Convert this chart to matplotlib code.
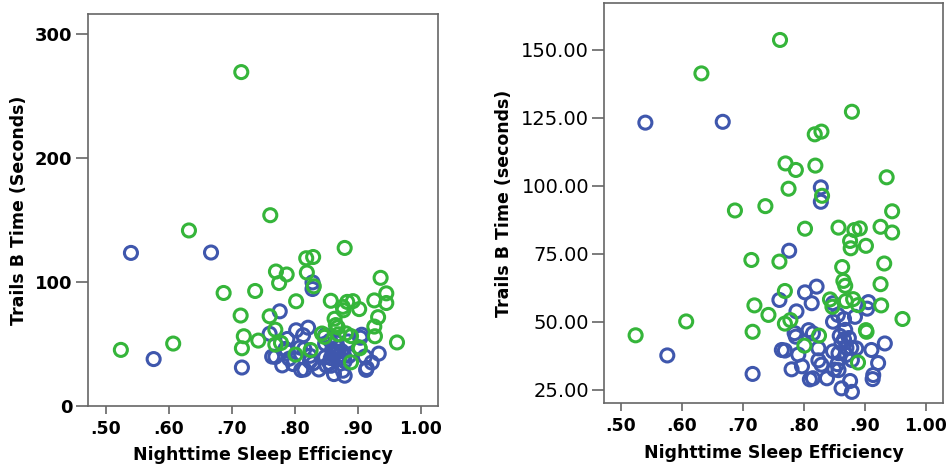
import matplotlib
matplotlib.use("Agg")
import matplotlib.pyplot as plt

# group 1 (green) and group 2 (blue): sleep efficiency vs Trails B time (s)
green_x = [0.761, 0.632, 0.879, 0.818, 0.829, 0.770, 0.787, 0.819, 0.936, 0.775,
           0.830, 0.687, 0.737, 0.945, 0.802, 0.857, 0.883, 0.892, 0.926, 0.945,
           0.876, 0.877, 0.902, 0.714, 0.760, 0.863, 0.932, 0.865, 0.868, 0.926,
           0.769, 0.719, 0.843, 0.847, 0.869, 0.881, 0.889, 0.927, 0.742, 0.962,
           0.607, 0.769, 0.778, 0.902, 0.903, 0.716, 0.524, 0.825, 0.801, 0.889]
green_y = [153.6, 141.3, 127.2, 118.9, 119.9, 108.2, 105.8, 107.4, 103.1, 98.9,
           96.3, 90.9, 92.5, 90.6, 84.2, 84.6, 83.7, 84.3, 84.9, 82.8,
           79.7, 77.0, 77.9, 72.7, 72.1, 70.1, 71.4, 65.0, 63.2, 63.8,
           61.3, 56.0, 58.2, 55.5, 57.6, 58.3, 56.1, 56.0, 52.5, 51.0,
           50.1, 49.3, 50.6, 46.9, 46.3, 46.3, 45.0, 44.9, 41.2, 35.0]

# outlier only shown in the left panel
outlier_x = [0.715]
outlier_y = [269.0]

blue_x = [0.540, 0.667, 0.828, 0.828, 0.776, 0.821, 0.802, 0.760, 0.813, 0.788,
          0.848, 0.906, 0.904, 0.884, 0.856, 0.866, 0.848, 0.868, 0.785, 0.787,
          0.808, 0.815, 0.859, 0.576, 0.764, 0.769, 0.791, 0.824, 0.848, 0.862,
          0.870, 0.878, 0.886, 0.870, 0.911, 0.933, 0.866, 0.874, 0.857, 0.824,
          0.829, 0.797, 0.780, 0.855, 0.857, 0.879, 0.922, 0.716, 0.810, 0.815,
          0.838, 0.876, 0.914, 0.913, 0.862, 0.879, 0.850]
blue_y = [123.2, 123.5, 99.4, 94.1, 76.1, 62.9, 60.8, 58.0, 56.8, 53.8,
          56.8, 57.2, 54.8, 51.8, 52.5, 51.0, 50.0, 47.0, 45.8, 44.5,
          46.9, 45.7, 44.8, 37.6, 39.6, 39.4, 37.9, 40.2, 39.1, 42.0,
          40.4, 40.4, 40.2, 37.8, 39.6, 42.0, 43.5, 44.0, 38.4, 35.8,
          34.2, 33.6, 32.5, 34.4, 32.2, 35.9, 34.8, 30.8, 28.8, 29.2,
          29.2, 28.2, 30.4, 28.9, 25.5, 24.2, 32.4]

x_ticks = [0.5, 0.6, 0.7, 0.8, 0.9, 1.0]
x_labels = [".50", ".60", ".70", ".80", ".90", "1.00"]
left_yticks = [0, 100, 200, 300]
right_yticks = [25, 50, 75, 100, 125, 150]

GREEN = "#35b53a"
BLUE = "#3f57ad"

plt.rcParams["font.family"] = "DejaVu Sans"

fig = plt.figure(figsize=(9.52, 4.71), dpi=100)
W, H = 952, 471
ax1 = fig.add_axes([87.7 / W, 1 - 405.7 / H, (438.3 - 87.7) / W, (405.7 - 14.3) / H])
ax2 = fig.add_axes([604.3 / W, 1 - 403.3 / H, (942.7 - 604.3) / W, (403.3 - 2.7) / H])


def draw(ax, extra):
    mk = dict(marker="o", s=88, facecolors="none", linewidths=2.2, zorder=3)
    ax.scatter(blue_x, blue_y, edgecolors=BLUE, **mk)
    ax.scatter(green_x, green_y, edgecolors=GREEN, **mk)
    if extra:
        ax.scatter(outlier_x, outlier_y, edgecolors=GREEN, **mk)
    ax.set_xticks(x_ticks)
    ax.set_xticklabels(x_labels, fontweight="bold", fontsize=12.5)
    for s in ax.spines.values():
        s.set_color("#666666")
        s.set_linewidth(1.2)
    ax.tick_params(axis="x", length=6, width=1.2, color="#666666", pad=4)
    ax.tick_params(axis="y", length=9, width=1.2, color="#666666", pad=2)
    ax.set_xlabel("Nighttime Sleep Efficiency", fontweight="bold", fontsize=12.5, labelpad=6)


draw(ax1, True)
ax1.set_xlim(0.4714, 1.0275)
ax1.set_ylim(0, 315.6)
ax1.set_yticks(left_yticks)
ax1.set_yticklabels([str(v) for v in left_yticks], fontweight="bold", fontsize=13)
ax1.set_ylabel("Trails B Time (Seconds)", fontweight="bold", fontsize=12.5, labelpad=5)

draw(ax2, False)
ax2.set_xlim(0.4726, 1.028)
ax2.set_ylim(20, 167.3)
ax2.set_yticks(right_yticks)
ax2.set_yticklabels(["%.2f" % v for v in right_yticks], fontsize=14)
ax2.set_ylabel("Trails B Time (seconds)", fontweight="bold", fontsize=12.5, labelpad=6)

fig.savefig("out.png", dpi=100)
